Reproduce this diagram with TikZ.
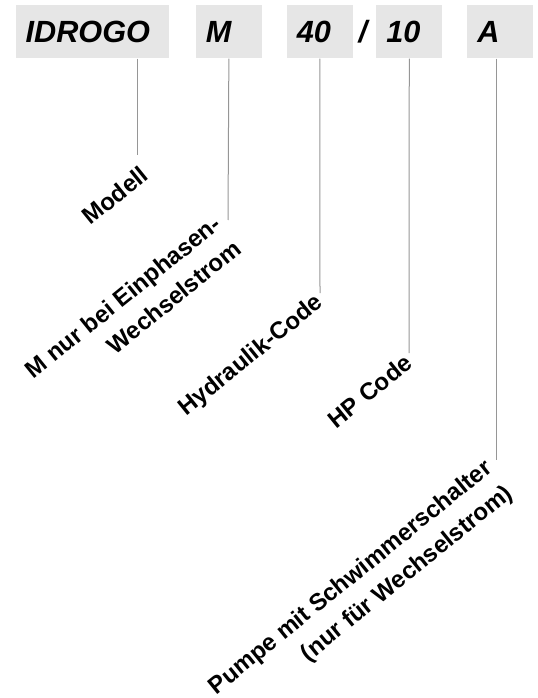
\documentclass[tikz,border=0pt]{standalone}
\usepackage{fontspec}
\setmainfont{Liberation Sans}
\usepackage{xcolor}
\definecolor{boxgray}{RGB}{230,230,230}
\definecolor{stemgray}{RGB}{150,150,150}

\begin{document}
\begin{tikzpicture}[x=0.75pt,y=-0.75pt,
    codebox/.style={fill=boxgray, anchor=north west, inner xsep=7.5pt, inner ysep=0pt,
                    minimum height=39.75pt, align=left,
                    font=\fontsize{23}{28}\selectfont\bfseries\itshape},
    lbl/.style={anchor=base east, rotate=39, inner sep=0pt, align=right,
                font=\fontsize{18}{24.3}\selectfont\bfseries},
    stem/.style={draw=stemgray, line width=0.75pt}]

    \useasboundingbox (0,0) rectangle (537,698);

    % Code boxes
    \node[codebox, text width=99.75pt] (idrogo) at (15.4,5) {IDROGO};
    \node[codebox, text width=34.5pt] (mcode) at (195.6,5) {M};
    \node[codebox, text width=34.5pt] (hydr) at (286.5,5) {40};
    \node[codebox, text width=34.5pt] (hp) at (376,5) {10};
    \node[codebox, text width=34.5pt] (acode) at (467,5) {A};
    \node[font=\fontsize{23}{28}\selectfont\bfseries\itshape, inner sep=0pt, anchor=base] (slash) at (363,42.5) {/};

    % Ends of the stems
    \coordinate (e1) at (137.4,155);
    \coordinate (e2) at (228,220);
    \coordinate (e3) at (320,293);
    \coordinate (e4) at (409,353);
    \coordinate (e5) at (496.5,460);

    \draw[stem] (e1 |- idrogo.south) -- (e1);
    \draw[stem] (mcode.south) -- (e2);
    \draw[stem] (hydr.south) -- (e3);
    \draw[stem] (hp.south) -- (e4);
    \draw[stem] (e5 |- acode.south) -- (e5);

    % Labels (base east = end of the last line)
    \node[lbl] (modell) at (150,178) {Modell};
    \node[lbl] (einph) at (243,252) {M nur bei Einphasen-\\Wechselstrom};
    \node[lbl] (hcode) at (324.5,305) {Hydraulik-Code};
    \node[lbl] (hpcode) at (414,366) {HP Code};
    \node[lbl] (pumpe) at (514,496) {Pumpe mit Schwimmerschalter\\(nur für Wechselstrom)};

\end{tikzpicture}
\end{document}
